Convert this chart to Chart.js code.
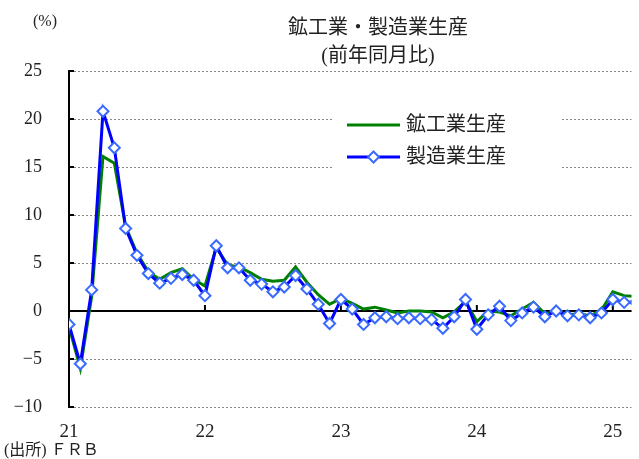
<!DOCTYPE html>
<html lang="ja">
<head>
<meta charset="utf-8">
<script src="https://cdn.jsdelivr.net/npm/chart.js@4"></script>
<style>
  html, body { margin: 0; padding: 0; background: #fff; }
</style>
</head>
<body>
<canvas id="chart" width="639" height="459"></canvas>
<script>
// year labels, one per January (month index 0, 12, 24, ...)
const yearLabels = ['21', '22', '23', '24', '25'];
const yTicks = [-10, -5, 0, 5, 10, 15, 20, 25];
const seriesNames = ['鉱工業生産', '製造業生産'];

// monthly y/y %, Jan 2021 .. Mar 2025
const industrial = [
    -1.6, -6.0, 1.5, 16.1, 15.4, 8.8, 6.0, 4.1, 3.3, 4.0, 4.4, 3.3,
    2.6, 6.6, 4.8, 4.6, 4.0, 3.3, 3.1, 3.2, 4.6, 3.0, 1.7, 0.7,
    1.3, 0.8, 0.2, 0.4, 0.1, -0.2, 0.0, 0.0, -0.1, -0.7, -0.1, 1.0,
    -1.1, 0.0, -0.1, -0.5, 0.2, 0.9, -0.3, 0.0, -0.4, -0.3, -0.5, 0.1,
    2.0, 1.6, 1.5
];
const manufacturing = [
    -1.4, -5.5, 2.2, 20.8, 17.0, 8.6, 5.8, 3.9, 2.9, 3.4, 3.8, 3.2,
    1.6, 6.8, 4.5, 4.5, 3.2, 2.8, 2.0, 2.5, 3.7, 2.3, 0.7, -1.3,
    1.2, 0.2, -1.4, -0.7, -0.6, -0.8, -0.7, -0.8, -0.9, -1.8, -0.6, 1.2,
    -1.9, -0.4, 0.5, -1.0, -0.2, 0.4, -0.6, 0.0, -0.5, -0.4, -0.7, -0.2,
    1.2, 0.9, 0.9
];

const serif = '"Liberation Serif", "DejaVu Serif", "Noto Sans CJK JP", serif';
const textColor = '#222';

function toPoints(values) {
    return values.map((v, i) => ({ x: i, y: v }));
}

function drawDiamond(ctx, cx, cy, r) {
    ctx.beginPath();
    ctx.moveTo(cx, cy - r);
    ctx.lineTo(cx + r, cy);
    ctx.lineTo(cx, cy + r);
    ctx.lineTo(cx - r, cy);
    ctx.closePath();
}

const decorations = {
    id: 'decorations',
    beforeDatasetsDraw(chart) {
        const { ctx, chartArea, scales: { x, y } } = chart;
        const y0 = y.getPixelForValue(0);
        ctx.save();
        ctx.strokeStyle = '#000';
        ctx.lineWidth = 2;
        ctx.beginPath();
        ctx.moveTo(chartArea.left, y0);
        ctx.lineTo(chartArea.right, y0);
        // year ticks stand up from the zero line
        x.ticks.forEach(t => {
            if (t.value === 0) return;
            const px = x.getPixelForValue(t.value);
            ctx.moveTo(px, y0);
            ctx.lineTo(px, y0 - 6);
        });
        // inward ticks on the value axis
        y.ticks.forEach(t => {
            const py = y.getPixelForValue(t.value);
            ctx.moveTo(chartArea.left, py);
            ctx.lineTo(chartArea.left + 5, py);
        });
        ctx.stroke();
        ctx.restore();
    },
    afterDraw(chart) {
        const ctx = chart.ctx;
        ctx.save();
        ctx.fillStyle = textColor;
        ctx.textBaseline = 'middle';

        ctx.font = '20px ' + serif;
        ctx.textAlign = 'center';
        ctx.fillText('鉱工業・製造業生産', 378, 29);
        ctx.fillText('(前年同月比)', 378, 57);

        ctx.font = '16px ' + serif;
        ctx.fillText('(%)', 45, 22);

        ctx.textAlign = 'left';
        ctx.fillText('(出所) ＦＲＢ', 4, 451);

        // legend
        ctx.fillStyle = '#fff';
        ctx.fillRect(332, 106, 230, 68);
        const rows = [125, 157];
        chart.data.datasets.forEach((ds, i) => {
            const ly = rows[i];
            ctx.strokeStyle = ds.borderColor;
            ctx.lineWidth = 3;
            ctx.beginPath();
            ctx.moveTo(347, ly);
            ctx.lineTo(400, ly);
            ctx.stroke();
            if (ds.pointRadius > 0) {
                drawDiamond(ctx, 373.5, ly, 5.5);
                ctx.fillStyle = ds.pointBackgroundColor;
                ctx.fill();
                ctx.lineWidth = 2;
                ctx.strokeStyle = ds.pointBorderColor;
                ctx.stroke();
            }
            ctx.fillStyle = textColor;
            ctx.font = '20px ' + serif;
            ctx.fillText(ds.label, 406, ly + 1);
        });
        ctx.restore();
    }
};

const ctx = document.getElementById('chart').getContext('2d');
new Chart(ctx, {
    type: 'line',
    data: {
        datasets: [
            {
                label: seriesNames[0],
                data: toPoints(industrial),
                borderColor: '#008000',
                borderWidth: 3,
                pointRadius: 0,
                tension: 0,
                order: 1
            },
            {
                label: seriesNames[1],
                data: toPoints(manufacturing),
                borderColor: '#0000ff',
                borderWidth: 3,
                pointStyle: 'rectRot',
                pointRadius: 5.5,
                pointBorderWidth: 2,
                pointBorderColor: '#3a6bff',
                pointBackgroundColor: '#fff',
                tension: 0,
                order: 0
            }
        ]
    },
    options: {
        responsive: false,
        animation: false,
        layout: { padding: { top: 71, left: 0, right: 0, bottom: 0 } },
        plugins: {
            legend: { display: false },
            tooltip: { enabled: false }
        },
        scales: {
            x: {
                type: 'linear',
                min: 0,
                max: 49.65,
                afterBuildTicks: s => { s.ticks = yearLabels.map((_, i) => ({ value: i * 12 })); },
                afterFit: s => { s.height = 52; },
                ticks: {
                    callback: (v, i) => yearLabels[i],
                    font: { family: serif, size: 19 },
                    color: textColor,
                    padding: 14,
                    maxRotation: 0,
                    autoSkip: false
                },
                grid: { display: false, drawTicks: false },
                border: { display: false }
            },
            y: {
                min: -10,
                max: 25,
                afterBuildTicks: s => { s.ticks = yTicks.map(v => ({ value: v })); },
                afterFit: s => { s.width = 69; },
                ticks: {
                    callback: v => v < 0 ? '−' + Math.abs(v) : String(v),
                    font: { family: serif, size: 18 },
                    color: textColor,
                    padding: 27
                },
                grid: { color: '#888', lineWidth: 1, drawTicks: false },
                border: { display: true, color: '#000', width: 2, dash: [2, 2] }
            }
        }
    },
    plugins: [decorations]
});
</script>
</body>
</html>
